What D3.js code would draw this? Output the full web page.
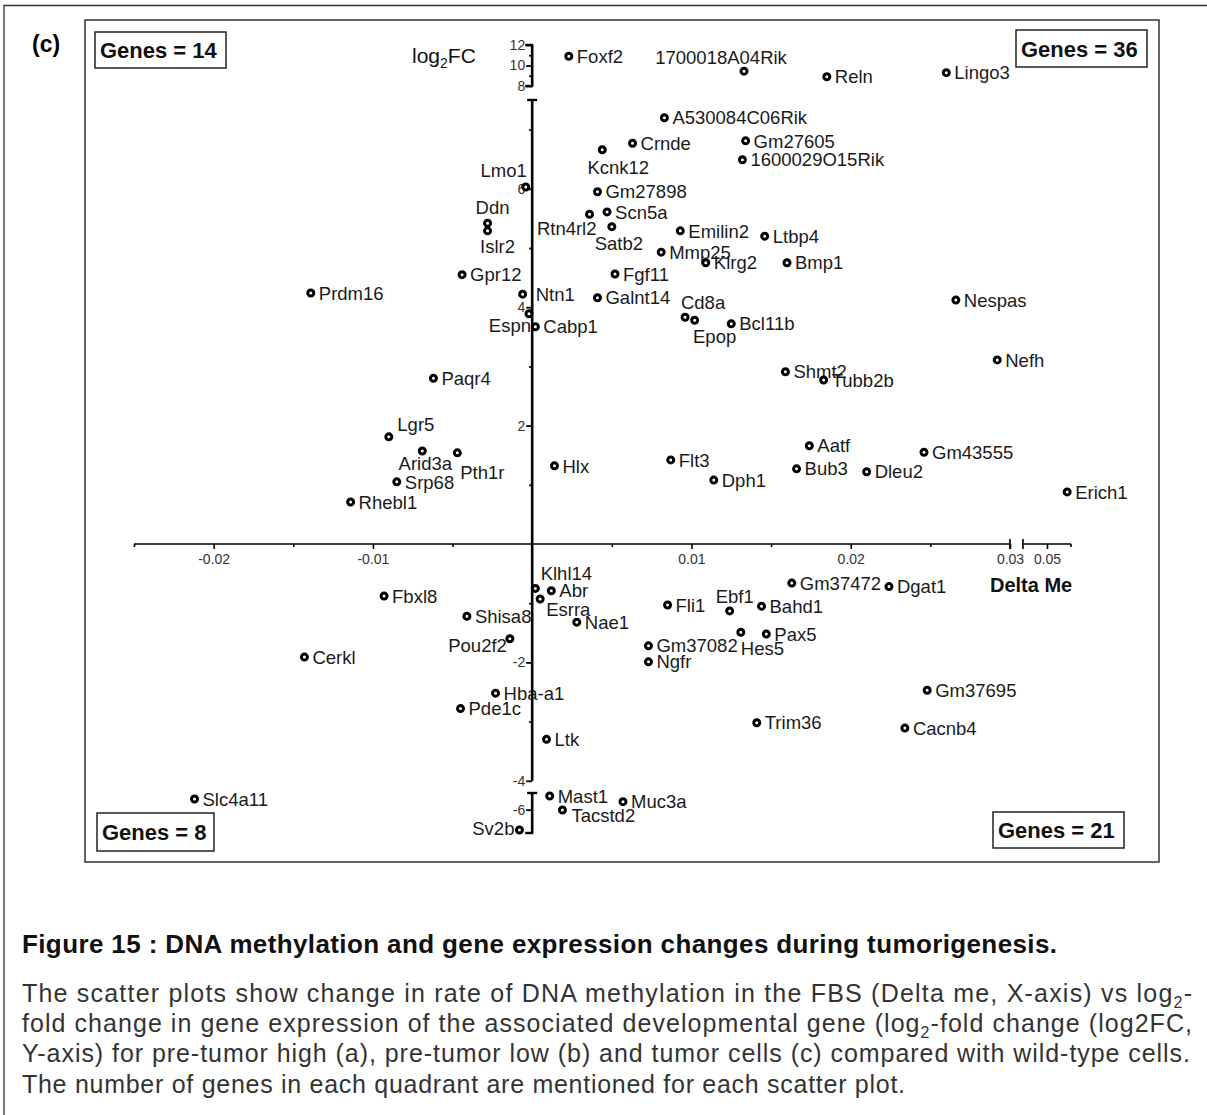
<!DOCTYPE html>
<html>
<head>
<meta charset="utf-8">
<script src="https://cdn.jsdelivr.net/npm/d3@7"></script>
<style>
  body { margin: 0; background: #fff; }
  text { font-family: "Liberation Sans", Arial, sans-serif; }
</style>
</head>
<body>
<div id="chart"></div>
<script>
// gene names, delta methylation (x) and log2 fold change (y)
const genes = [
  "Foxf2", "1700018A04Rik", "Reln", "Lingo3",
  "A530084C06Rik", "Crnde", "Kcnk12", "Gm27605", "1600029O15Rik", "Lmo1", "Gm27898",
  "Scn5a", "Rtn4rl2", "Satb2", "Ddn", "Islr2", "Emilin2", "Ltbp4", "Mmp25", "Klrg2",
  "Bmp1", "Fgf11", "Gpr12", "Prdm16", "Ntn1", "Galnt14", "Nespas", "Espn", "Cabp1",
  "Cd8a", "Epop", "Bcl11b", "Nefh", "Shmt2", "Tubb2b", "Paqr4", "Lgr5", "Arid3a",
  "Pth1r", "Srp68", "Rhebl1", "Hlx", "Flt3", "Dph1", "Aatf", "Bub3", "Dleu2",
  "Gm43555", "Erich1",
  "Klhl14", "Abr", "Esrra", "Fbxl8", "Shisa8", "Nae1", "Pou2f2", "Cerkl", "Fli1",
  "Ebf1", "Bahd1", "Gm37472", "Dgat1", "Hes5", "Pax5", "Gm37082", "Ngfr", "Gm37695",
  "Hba-a1", "Pde1c", "Trim36", "Cacnb4", "Ltk", "Slc4a11", "Mast1", "Tacstd2",
  "Muc3a", "Sv2b"
];
const deltaMe = [
  0.0023, 0.0133, 0.0185, 0.0260,
  0.0083, 0.0063, 0.0044, 0.0134, 0.0132, -0.0004, 0.0041,
  0.0047, 0.0036, 0.0050, -0.0028, -0.0028, 0.0093, 0.0146, 0.0081, 0.0109,
  0.0160, 0.0052, -0.0044, -0.0139, -0.0006, 0.0041, 0.0266, -0.0002, 0.0002,
  0.0096, 0.0102, 0.0125, 0.0292, 0.0159, 0.0183, -0.0062, -0.0090, -0.0069,
  -0.0047, -0.0085, -0.0114, 0.0014, 0.0087, 0.0114, 0.0174, 0.0166, 0.0210,
  0.0246, 0.0542,
  0.0002, 0.0012, 0.0005, -0.0093, -0.0041, 0.0028, -0.0014, -0.0143, 0.0085,
  0.0124, 0.0144, 0.0163, 0.0224, 0.0131, 0.0147, 0.0073, 0.0073, 0.0248,
  -0.0023, -0.0045, 0.0141, 0.0234, 0.0009, -0.0212, 0.0011, 0.0019,
  0.0057, -0.0008
];
const log2FC = [
  10.9, 9.45, 8.9, 9.3,
  7.2, 6.77, 6.66, 6.81, 6.49, 6.03, 5.95,
  5.61, 5.57, 5.36, 5.42, 5.29, 5.29, 5.2, 4.93, 4.75,
  4.75, 4.56, 4.55, 4.24, 4.22, 4.16, 4.12, 3.89, 3.67,
  3.83, 3.78, 3.72, 3.11, 2.91, 2.77, 2.8, 1.81, 1.57,
  1.54, 1.05, 0.71, 1.32, 1.42, 1.08, 1.66, 1.27, 1.22,
  1.55, 0.88,
  -0.75, -0.79, -0.93, -0.88, -1.22, -1.32, -1.6, -1.91, -1.03,
  -1.13, -1.05, -0.66, -0.72, -1.49, -1.52, -1.72, -1.99, -2.47,
  -2.52, -2.78, -3.02, -3.11, -3.3, -5.36, -5.18, -6.02,
  -5.52, -7.22
];
const quadrantGenes = [14, 36, 8, 21];

const xTicksMain = [-0.02, -0.01, 0.01, 0.02, 0.03];
const xTicksRight = [0.05];
const yTicksTop = [8, 10, 12];
const yTicksMid = [-4, -2, 2, 4, 6];
const yTicksBot = [-6];

// label placement for labels that are not simply to the right of the marker
const labelPlace = {
  "1700018A04Rik": [-23, -14, "middle"],
  "Kcnk12": [16, 18, "middle"],
  "Lmo1": [1, -17, "end"],
  "Ddn": [5, -16, "middle"],
  "Islr2": [10, 16, "middle"],
  "Rtn4rl2": [7, 14, "end"],
  "Satb2": [7, 17, "middle"],
  "Espn": [2, 12, "end"],
  "Ntn1": [13, 0, "start"],
  "Cd8a": [18, -15, "middle"],
  "Epop": [20, 16, "middle"],
  "Lgr5": [27, -13, "middle"],
  "Arid3a": [3, 12, "middle"],
  "Pth1r": [25, 20, "middle"],
  "Klhl14": [31, -15, "middle"],
  "Esrra": [6, 10, "start"],
  "Pou2f2": [-3, 7, "end"],
  "Ebf1": [5, -15, "middle"],
  "Hes5": [0, 16, "start"],
  "Sv2b": [-5, -2, "end"],
  "Tacstd2": [9, 5, "start"]
};

const width = 1207, height = 1115;
const svg = d3.select("#chart").append("svg")
  .attr("width", width)
  .attr("height", height);

// page frame + plot frame
svg.append("path").attr("d", "M4,1115 V5.5 H1207")
  .attr("fill", "none").attr("stroke", "#333").attr("stroke-width", 1.3);
svg.append("rect").attr("x", 85).attr("y", 20).attr("width", 1074).attr("height", 842)
  .attr("fill", "none").attr("stroke", "#333").attr("stroke-width", 1.5);
svg.append("text").attr("x", 32).attr("y", 52)
  .attr("font-size", 23).attr("font-weight", "bold").text("(c)");

// broken scales
const xMain = d3.scaleLinear().domain([-0.025, 0.03]).range([134, 1010]);
const xRight = d3.scaleLinear().domain([0.045, 0.055]).range([1023, 1071]);
const yTop = d3.scaleLinear().domain([8, 12]).range([86, 45]);
const yMid = d3.scaleLinear().domain([-4, 7.5]).range([780.8, 100]);
const yBot = d3.scaleLinear().domain([-7.4, -5]).range([833, 793]);

const xPos = v => v > 0.04 ? xRight(v) : xMain(v);
const yPos = v => v > 7.6 ? yTop(v) : (v < -4.5 ? yBot(v) : yMid(v));

const x0 = xMain(0), y0 = yMid(0);

// ---- x axis (two pieces)
const xAxisG = svg.append("g").attr("transform", `translate(0,${y0})`);
xAxisG.append("g")
  .call(d3.axisBottom(xMain).tickValues(xTicksMain).tickSize(5).tickSizeOuter(0).tickFormat(d => String(d)))
  .call(g => g.select(".domain").remove());
xAxisG.append("g")
  .call(d3.axisBottom(xMain).tickValues([-0.025, -0.015, -0.005, 0.005, 0.015, 0.025]).tickSize(3).tickFormat(""))
  .call(g => g.select(".domain").remove());
xAxisG.append("g")
  .call(d3.axisBottom(xRight).tickValues(xTicksRight).tickSize(5).tickFormat(d => String(d)))
  .call(g => g.select(".domain").remove());
xAxisG.append("line").attr("x1", xMain.range()[0]).attr("x2", xMain.range()[1])
  .attr("stroke", "#000").attr("stroke-width", 1.6);
xAxisG.append("line").attr("x1", xRight.range()[0]).attr("x2", xRight.range()[1])
  .attr("stroke", "#000").attr("stroke-width", 1.6);
[xMain.range()[1], xRight.range()[0]].forEach(px => {
  xAxisG.append("line").attr("x1", px).attr("x2", px).attr("y1", -5).attr("y2", 5)
    .attr("stroke", "#000").attr("stroke-width", 1.6);
});
xAxisG.append("line").attr("x1", 1071).attr("x2", 1071).attr("y1", 0).attr("y2", 3)
  .attr("stroke", "#000").attr("stroke-width", 1.6);
xAxisG.selectAll(".tick line").attr("stroke", "#000").attr("stroke-width", 1.6);
xAxisG.selectAll(".tick text").attr("font-size", 14).attr("fill", "#333")
  .attr("font-family", "Liberation Sans, Arial, sans-serif").attr("dy", "0.85em");

// ---- y axis (three pieces)
const yAxisG = svg.append("g").attr("transform", `translate(${x0},0)`);
[[yTop, yTicksTop, [9, 11]], [yMid, yTicksMid, [-3, -1, 1, 3, 5, 7]], [yBot, yTicksBot, []]].forEach(([sc, major, minor]) => {
  yAxisG.append("g")
    .call(d3.axisLeft(sc).tickValues(major).tickSize(6).tickFormat(d3.format("d")))
    .call(g => g.select(".domain").remove())
    .call(g => g.selectAll("text").text(d => String(d)));
  yAxisG.append("g")
    .call(d3.axisLeft(sc).tickValues(minor).tickSize(3).tickFormat(""))
    .call(g => g.select(".domain").remove());
  yAxisG.append("line").attr("y1", sc.range()[0]).attr("y2", sc.range()[1])
    .attr("stroke", "#000").attr("stroke-width", 2.6);
});
// caps at the breaks
[[yTop(12), -7, 1], [yTop(8), -7, 1], [yMid.range()[1], -5, 5], [yBot.range()[1], -5, 5], [yBot.range()[0], -7, 1]]
  .forEach(([py, a, b]) => {
    yAxisG.append("line").attr("x1", a).attr("x2", b).attr("y1", py).attr("y2", py)
      .attr("stroke", "#000").attr("stroke-width", 2.4);
  });
yAxisG.selectAll(".tick line").attr("stroke", "#000").attr("stroke-width", 1.8);
yAxisG.selectAll(".tick text").attr("font-size", 14).attr("fill", "#333")
  .attr("font-family", "Liberation Sans, Arial, sans-serif").attr("x", -7);

// axis titles
const yTitle = svg.append("text").attr("x", 412).attr("y", 63).attr("font-size", 21).attr("fill", "#111");
yTitle.append("tspan").text("log");
yTitle.append("tspan").attr("font-size", 14).attr("dy", 5).text("2");
yTitle.append("tspan").attr("dy", -5).text("FC");
svg.append("text").attr("x", 990).attr("y", 592).attr("font-size", 20)
  .attr("font-weight", "bold").attr("fill", "#111").text("Delta Me");

// ---- points
const points = genes.map((g, i) => ({ gene: g, x: deltaMe[i], y: log2FC[i] }));
const pts = svg.append("g").selectAll("g").data(points).enter().append("g")
  .attr("transform", d => `translate(${xPos(d.x)},${yPos(d.y)})`);
pts.append("circle").attr("r", 3)
  .attr("fill", "#fff").attr("stroke", "#000").attr("stroke-width", 3);
pts.append("text")
  .attr("x", d => (labelPlace[d.gene] || [8, 0, "start"])[0])
  .attr("y", d => (labelPlace[d.gene] || [8, 0, "start"])[1])
  .attr("dy", "0.36em")
  .attr("text-anchor", d => (labelPlace[d.gene] || [8, 0, "start"])[2])
  .attr("font-size", 18.5).attr("fill", "#1a1a1a")
  .text(d => d.gene);

// ---- quadrant boxes
const boxes = [
  { n: quadrantGenes[0], x: 95, y: 32, w: 131, h: 36 },
  { n: quadrantGenes[1], x: 1016, y: 30, w: 131, h: 37 },
  { n: quadrantGenes[2], x: 97, y: 813, w: 117, h: 38 },
  { n: quadrantGenes[3], x: 993, y: 812, w: 131, h: 36 }
];
const bx = svg.append("g").selectAll("g").data(boxes).enter().append("g");
bx.append("rect").attr("x", d => d.x).attr("y", d => d.y).attr("width", d => d.w).attr("height", d => d.h)
  .attr("fill", "#fff").attr("stroke", "#222").attr("stroke-width", 1.5);
bx.append("text").attr("x", d => d.x + 5).attr("y", d => d.y + d.h / 2 + 8)
  .attr("font-size", 22).attr("font-weight", "bold").attr("fill", "#111")
  .text(d => `Genes = ${d.n}`);

// ---- caption
svg.append("text").attr("x", 22).attr("y", 953).attr("font-size", 26).attr("font-weight", "bold")
  .attr("fill", "#111").attr("textLength", 1035).attr("lengthAdjust", "spacing")
  .text("Figure 15 : DNA methylation and gene expression changes during tumorigenesis.");

const capLines = [
  [["The scatter plots show change in rate of DNA methylation in the FBS (Delta me, X-axis) vs log", 0], ["2", 1], ["-", 0]],
  [["fold change in gene expression of the associated developmental gene (log", 0], ["2", 1], ["-fold change (log2FC,", 0]],
  [["Y-axis) for pre-tumor high (a), pre-tumor low (b) and tumor cells (c) compared with wild-type cells.", 0]],
  [["The number of genes in each quadrant are mentioned for each scatter plot.", 0]]
];
const capWidths = [1170, 1170, 1168, 883];
const capY = [1002, 1032, 1062, 1093];
capLines.forEach((parts, i) => {
  const t = svg.append("text").attr("x", 22).attr("y", capY[i]).attr("font-size", 25)
    .attr("fill", "#333").attr("textLength", capWidths[i]).attr("lengthAdjust", "spacing");
  let shifted = false;
  parts.forEach(([s, sub]) => {
    const ts = t.append("tspan").text(s);
    if (sub) { ts.attr("font-size", 16).attr("dy", 6); shifted = true; }
    else if (shifted) { ts.attr("dy", -6); shifted = false; }
  });
});
</script>
</body>
</html>
